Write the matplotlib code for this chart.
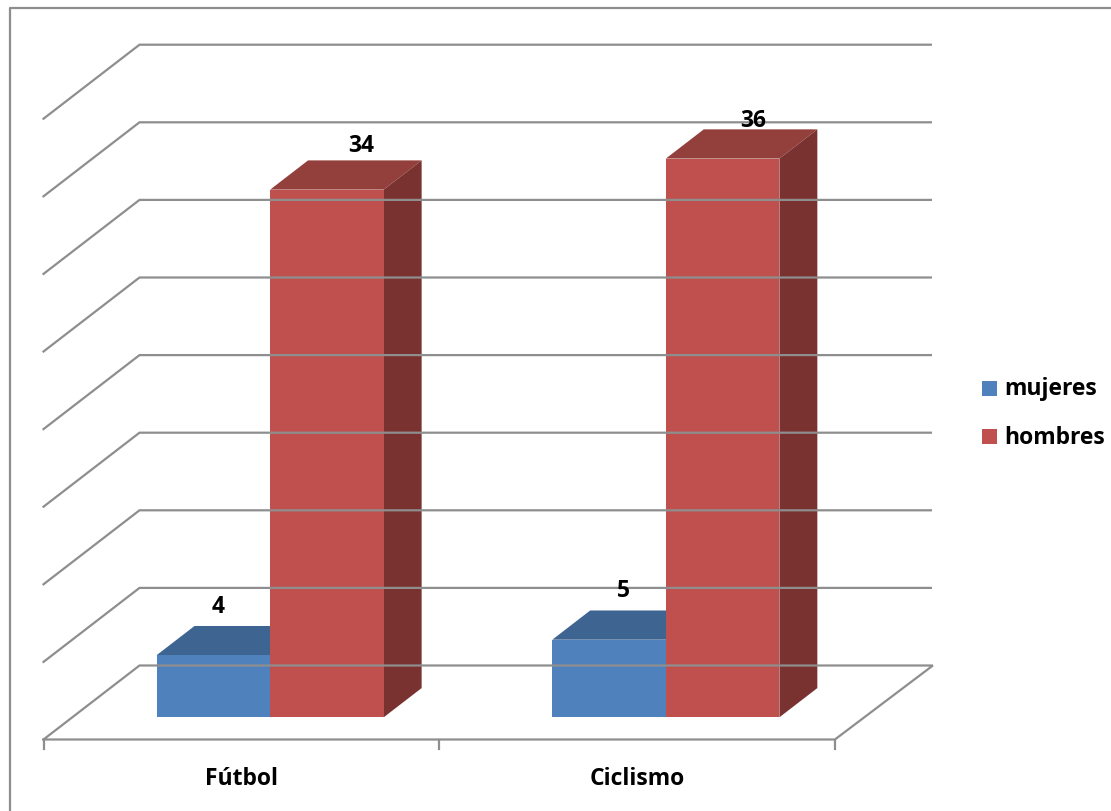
import matplotlib
matplotlib.use("Agg")
import matplotlib.pyplot as plt
from matplotlib.lines import Line2D
from matplotlib.patches import Rectangle

categories = ['Fútbol', 'Ciclismo']
series_names = ['mujeres', 'hombres']
mujeres = [4, 5]
hombres = [34, 36]
y_ticks = [0, 5, 10, 15, 20, 25, 30, 35, 40]

front_colors = ['#4f81bd', '#c0504d']
top_colors = ['#3e6491', '#93403d']
side_colors = ['#32507a', '#7a3230']
line_color = '#8e8e8e'

# pixels of the front plane, used only to place the axes
W, H = 1111, 812
PX_X0, PX_CAT = 43.5, 395.7
PX_Y0, PX_UNIT = 740.5, 15.52

# depth of the box, in data units
DEPTH_X = 96.0 / PX_CAT
DEPTH_Y = 74.0 / PX_UNIT
BAR_Z = 0.30
BAR_DEPTH = 0.395
BAR_W = 0.287

plt.rcParams['font.family'] = ['Open Sans', 'DejaVu Sans']
FS = 16.5
LW = 1.6


def proj(x, y, z):
    return x + z * DEPTH_X, y + z * DEPTH_Y


fig = plt.figure(figsize=(W / 100, H / 100), dpi=100)
ax = fig.add_axes([0, 0, 1, 1])
ax.set_xlim(-PX_X0 / PX_CAT, (W - PX_X0) / PX_CAT)
ax.set_ylim((PX_Y0 - H) / PX_UNIT, PX_Y0 / PX_UNIT)
ax.axis('off')

# outer border, only left and top show
fig.add_artist(Line2D([9.5 / W, 9.5 / W, 1], [0, 1 - 8.5 / H, 1 - 8.5 / H], color=line_color, lw=LW))

# walls
for t in y_ticks:
    x0, y0 = proj(0, t, 0)
    x1, y1 = proj(0, t, 1)
    x2, y2 = proj(2, t, 1)
    if t == 0:
        ax.plot([x0, 2, x2 + 0.005, x1, x0], [y0, y0, y2, y1, y0], color=line_color, lw=LW, solid_joinstyle='miter')
    else:
        ax.plot([x0, x1, x2], [y0, y1, y2], color=line_color, lw=LW, solid_joinstyle='miter')
for i in range(3):
    ax.plot([i, i], [0, -0.58], color=line_color, lw=LW)


def draw_bar(left, value, k):
    base_x, base_y = proj(left, 0, BAR_Z)
    right = base_x + BAR_W
    top = base_y + value
    dx = BAR_DEPTH * DEPTH_X
    dy = BAR_DEPTH * DEPTH_Y
    ax.fill([base_x, right, right + dx, base_x + dx], [top, top, top + dy, top + dy], color=top_colors[k], lw=0)
    ax.fill([right, right + dx, right + dx, right], [base_y, base_y + dy, top + dy, top], color=side_colors[k], lw=0)
    ax.bar(base_x, value, BAR_W, bottom=base_y, align='edge', color=front_colors[k], lw=0)
    return base_x + BAR_W / 2, top


# label offsets from the middle of the front top edge, in pixels
label_offsets = [[(5, 49), (34, 45)], [(14, 50), (31, 39)]]
gap = (1 - 2 * BAR_W) / 2
for i in range(len(categories)):
    for k, values in enumerate([mujeres, hombres]):
        cx, cy = draw_bar(i + gap + k * BAR_W, values[i], k)
        ax.annotate(str(values[i]), (cx, cy), xytext=label_offsets[i][k], textcoords='offset pixels',
                    ha='center', va='center', fontsize=FS, fontweight='bold', color='black')
    ax.text(i + 0.50, -2.5, categories[i], ha='center', va='center', fontsize=FS, fontweight='bold', color='black')

# legend
legend_y = [389.5, 437.5]
for name, color, py in zip(series_names, front_colors, legend_y):
    fig.add_artist(Rectangle((982 / W, 1 - (py + 7.5) / H), 15 / W, 15 / H, transform=fig.transFigure, color=color, lw=0))
    fig.text(1004.5 / W, 1 - py / H, name, ha='left', va='center', fontsize=FS, fontweight='bold', color='black')

fig.savefig('out.png', dpi=100, facecolor='white')
